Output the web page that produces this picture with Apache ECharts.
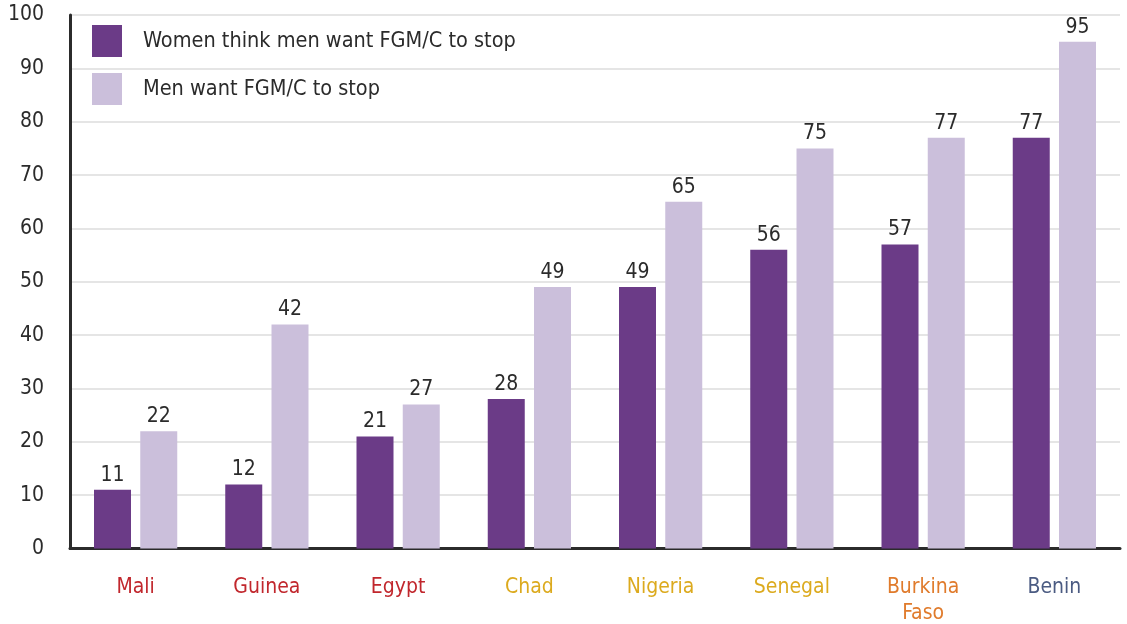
<!DOCTYPE html>
<html>
<head>
<meta charset="utf-8">
<script src="https://cdn.jsdelivr.net/npm/echarts@6/dist/echarts.min.js"></script>
<style>
  html, body { margin: 0; padding: 0; background: #fff; }
  #chart { width: 1127px; height: 624px; }
</style>
</head>
<body>
<div id="chart"></div>
<script>
// Countries on the category axis
const countries = ['Mali', 'Guinea', 'Egypt', 'Chad', 'Nigeria', 'Senegal', 'Burkina\nFaso', 'Benin'];
const countryColors = ['#c1272d', '#c1272d', '#c1272d', '#dcaa1e', '#dcaa1e', '#dcaa1e', '#e07b2c', '#4b5b82'];

// Percentages per country
const womenThinkMenWantStop = [11, 12, 21, 28, 49, 56, 57, 77];
const menWantStop = [22, 42, 27, 49, 65, 75, 77, 95];

const seriesNames = ['Women think men want FGM/C to stop', 'Men want FGM/C to stop'];
const yTicks = [0, 10, 20, 30, 40, 50, 60, 70, 80, 90, 100];

const FONT = '"Liberation Sans Narrow", "DejaVu Sans Condensed", "Roboto", sans-serif';

const chart = echarts.init(document.getElementById('chart'));

const richLabels = {};
countryColors.forEach((c, i) => {
  richLabels['c' + i] = { color: c, fontSize: 21, fontFamily: FONT, lineHeight: 26 };
});

chart.setOption({
  animation: false,
  textStyle: { fontFamily: FONT },
  grid: { left: 70, right: 7, top: 15, bottom: 71, containLabel: false },
  legend: {
    orient: 'vertical',
    left: 87,
    top: 20,
    itemWidth: 30,
    itemHeight: 32,
    itemGap: 16,
    icon: 'rect',
    textStyle: { fontSize: 21.5, color: '#2b2b2b', fontFamily: FONT, padding: [0, 0, 0, 16] },
    data: seriesNames
  },
  xAxis: {
    type: 'category',
    data: countries,
    axisLine: { show: true, lineStyle: { color: '#2b2b2b', width: 3 } },
    axisTick: { show: false },
    axisLabel: {
      margin: 26,
      interval: 0,
      formatter: function (value, idx) {
        return value.split('\n').map(s => '{c' + idx + '|' + s + '}').join('\n');
      },
      rich: richLabels
    }
  },
  yAxis: {
    type: 'value',
    min: yTicks[0],
    max: yTicks[yTicks.length - 1],
    interval: 10,
    axisLine: { show: true, lineStyle: { color: '#2b2b2b', width: 3 } },
    axisTick: { show: false },
    axisLabel: { fontSize: 21, color: '#2b2b2b', fontFamily: FONT, margin: 26 },
    splitLine: { lineStyle: { color: '#e5e5e5', width: 2 } }
  },
  series: [
    {
      name: seriesNames[0],
      type: 'bar',
      data: womenThinkMenWantStop,
      barWidth: 37,
      barGap: '25%',
      itemStyle: { color: '#6b3b87' },
      label: { show: true, position: 'top', distance: 4, fontSize: 21, color: '#2b2b2b', fontFamily: FONT }
    },
    {
      name: seriesNames[1],
      type: 'bar',
      data: menWantStop,
      barWidth: 37,
      barGap: '25%',
      itemStyle: { color: '#cbbfdb' },
      label: { show: true, position: 'top', distance: 4, fontSize: 21, color: '#2b2b2b', fontFamily: FONT }
    }
  ]
});
</script>
</body>
</html>
